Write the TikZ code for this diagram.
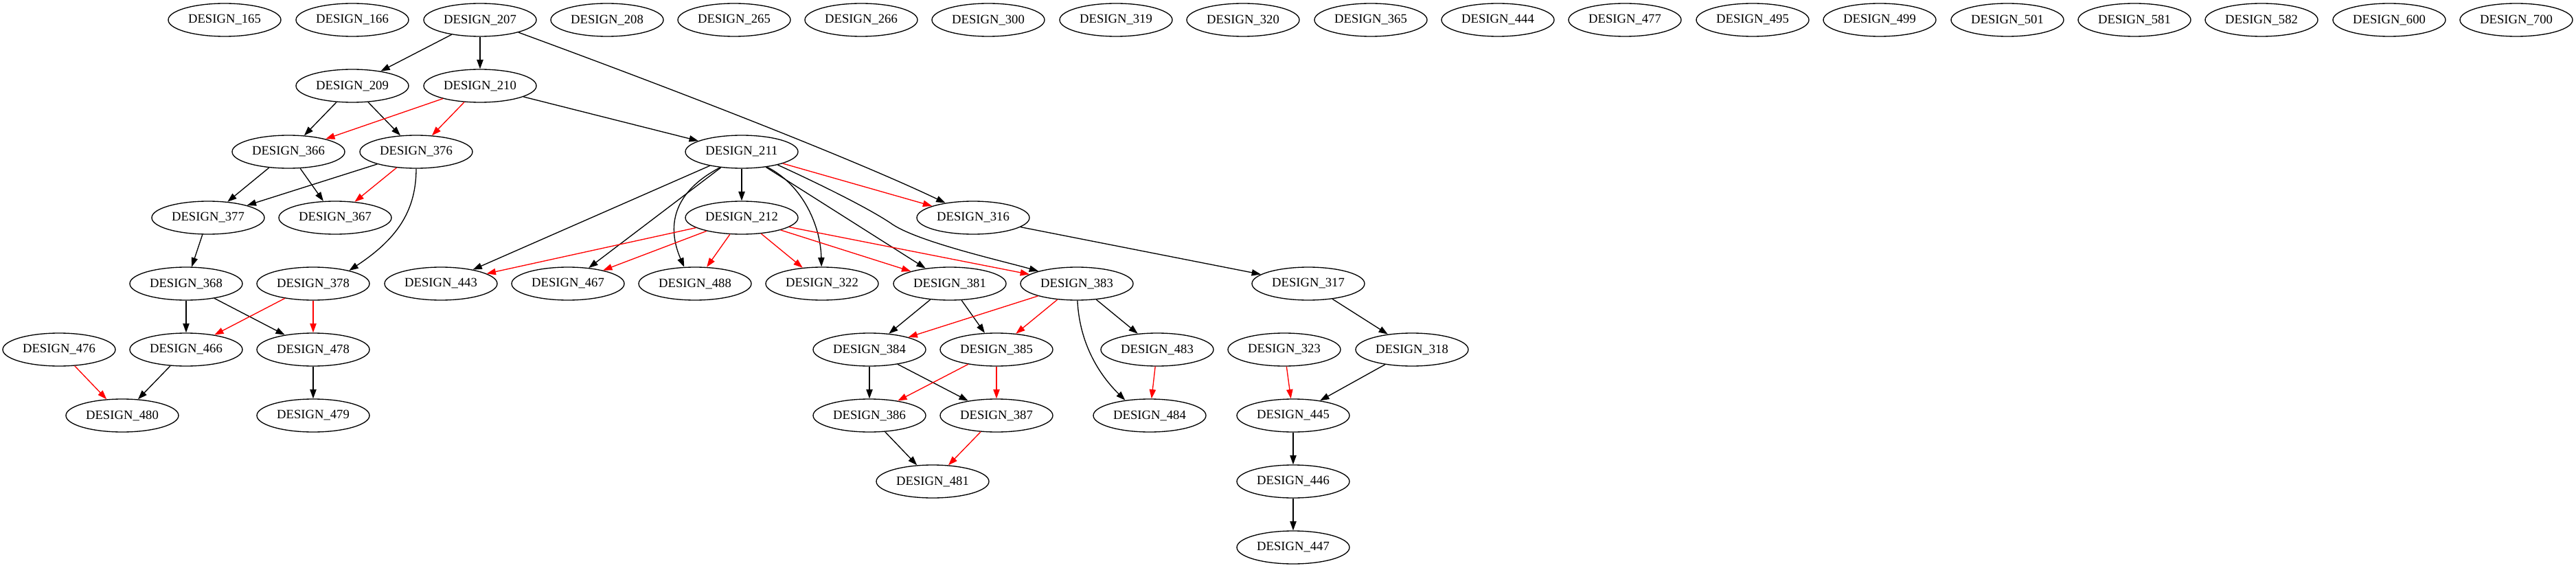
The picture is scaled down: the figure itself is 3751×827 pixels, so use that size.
\documentclass[tikz,border=0pt]{standalone}
\usepackage{fontspec}
\setmainfont{Liberation Serif}
\usetikzlibrary{arrows.meta,shapes.geometric}
\begin{document}
\begin{tikzpicture}[x=0.75pt,y=-0.75pt,
  dnode/.style={draw, ellipse, line width=1pt, minimum width=123pt, minimum height=36pt, inner sep=0pt, font=\fontsize{14}{16}\selectfont},
  bedge/.style={draw=black, line width=1pt, -{Triangle[length=10pt,width=7pt]}},
  redge/.style={bedge, draw=red, fill=red}
]
\useasboundingbox (0,0) rectangle (3751,827);
% top row
\node[dnode] (n165) at (327,29) {DESIGN\_165};
\node[dnode] (n166) at (513,29) {DESIGN\_166};
\node[dnode] (n207) at (699,29) {DESIGN\_207};
\node[dnode] (n208) at (884,29) {DESIGN\_208};
\node[dnode] (n265) at (1069,29) {DESIGN\_265};
\node[dnode] (n266) at (1254,29) {DESIGN\_266};
\node[dnode] (n300) at (1439,29) {DESIGN\_300};
\node[dnode] (n319) at (1625,29) {DESIGN\_319};
\node[dnode] (n320) at (1810,29) {DESIGN\_320};
\node[dnode] (n365) at (1996,29) {DESIGN\_365};
\node[dnode] (n444) at (2181,29) {DESIGN\_444};
\node[dnode] (n477) at (2366,29) {DESIGN\_477};
\node[dnode] (n495) at (2552,29) {DESIGN\_495};
\node[dnode] (n499) at (2737,29) {DESIGN\_499};
\node[dnode] (n501) at (2923,29) {DESIGN\_501};
\node[dnode] (n581) at (3108,29) {DESIGN\_581};
\node[dnode] (n582) at (3293,29) {DESIGN\_582};
\node[dnode] (n600) at (3479,29) {DESIGN\_600};
\node[dnode] (n700) at (3664,29) {DESIGN\_700};
% row 2
\node[dnode] (n209) at (513,125) {DESIGN\_209};
\node[dnode] (n210) at (699,125) {DESIGN\_210};
% row 3
\node[dnode] (n366) at (420,221) {DESIGN\_366};
\node[dnode] (n376) at (606,221) {DESIGN\_376};
\node[dnode] (n211) at (1080,221) {DESIGN\_211};
% row 4
\node[dnode] (n377) at (303,317) {DESIGN\_377};
\node[dnode] (n367) at (488,317) {DESIGN\_367};
\node[dnode] (n212) at (1080,317) {DESIGN\_212};
\node[dnode] (n316) at (1417,317) {DESIGN\_316};
% row 5
\node[dnode] (n368) at (271,413) {DESIGN\_368};
\node[dnode] (n378) at (456,413) {DESIGN\_378};
\node[dnode] (n443) at (642,413) {DESIGN\_443};
\node[dnode] (n467) at (827,413) {DESIGN\_467};
\node[dnode] (n488) at (1012,413) {DESIGN\_488};
\node[dnode] (n322) at (1197,413) {DESIGN\_322};
\node[dnode] (n381) at (1383,413) {DESIGN\_381};
\node[dnode] (n383) at (1568,413) {DESIGN\_383};
\node[dnode] (n317) at (1905,413) {DESIGN\_317};
% row 6
\node[dnode] (n476) at (86,509) {DESIGN\_476};
\node[dnode] (n466) at (271,509) {DESIGN\_466};
\node[dnode] (n478) at (456,509) {DESIGN\_478};
\node[dnode] (n384) at (1266,509) {DESIGN\_384};
\node[dnode] (n385) at (1451,509) {DESIGN\_385};
\node[dnode] (n483) at (1685,509) {DESIGN\_483};
\node[dnode] (n323) at (1870,509) {DESIGN\_323};
\node[dnode] (n318) at (2056,509) {DESIGN\_318};
% row 7
\node[dnode] (n480) at (178,605) {DESIGN\_480};
\node[dnode] (n479) at (456,605) {DESIGN\_479};
\node[dnode] (n386) at (1266,605) {DESIGN\_386};
\node[dnode] (n387) at (1451,605) {DESIGN\_387};
\node[dnode] (n484) at (1674,605) {DESIGN\_484};
\node[dnode] (n445) at (1883,605) {DESIGN\_445};
% row 8, 9
\node[dnode] (n481) at (1358,701) {DESIGN\_481};
\node[dnode] (n446) at (1883,701) {DESIGN\_446};
\node[dnode] (n447) at (1883,797) {DESIGN\_447};

% black edges
\draw[bedge] (n207) -- (n209);
\draw[bedge] (n207) -- (n210);
\draw[bedge] (n207.-18) .. controls (1000,137) and (1250,235) .. (n316.152);
\draw[bedge] (n210) -- (n211);
\draw[bedge] (n209) -- (n366);
\draw[bedge] (n209) -- (n376);
\draw[bedge] (n366) -- (n377);
\draw[bedge] (n366) -- (n367);
\draw[bedge] (n376) -- (n377);
\draw[bedge] (n376.south) .. controls (606,310) and (575,350) .. (n378.20);
\draw[bedge] (n377) -- (n368);
\draw[bedge] (n368) -- (n466);
\draw[bedge] (n368) -- (n478);
\draw[bedge] (n478) -- (n479);
\draw[bedge] (n466) -- (n480);
\draw[bedge] (n211) -- (n212);
\draw[bedge] (n211) -- (n443);
\draw[bedge] (n211) -- (n467);
\draw[bedge] (n211.216) .. controls (970,285) and (975,340) .. (n488.123);
\draw[bedge] (n211.-31) .. controls (1170,270) and (1195,330) .. (n322.92);
\draw[bedge] (n211) -- (n381);
\draw[bedge] (n211.-20) .. controls (1200,271) and (1270,306) .. (1300,327)
  .. controls (1340,353) and (1460,380) .. (n383.162);
\draw[bedge] (n316) -- (n317);
\draw[bedge] (n317) -- (n318);
\draw[bedge] (n318) -- (n445);
\draw[bedge] (n445) -- (n446);
\draw[bedge] (n446) -- (n447);
\draw[bedge] (n381) -- (n384);
\draw[bedge] (n381) -- (n385);
\draw[bedge] (n383) -- (n483);
\draw[bedge] (n383.-88) .. controls (1572,500) and (1600,545) .. (n484.148);
\draw[bedge] (n384) -- (n386);
\draw[bedge] (n384) -- (n387);
\draw[bedge] (n386) -- (n481);

% red edges
\draw[redge] (n210) -- (n366);
\draw[redge] (n210) -- (n376);
\draw[redge] (n376) -- (n367);
\draw[redge] (n378) -- (n466);
\draw[redge] (n378) -- (n478);
\draw[redge] (n476) -- (n480);
\draw[redge] (n211) -- (n316);
\draw[redge] (n212) -- (n443);
\draw[redge] (n212) -- (n467);
\draw[redge] (n212) -- (n488);
\draw[redge] (n212) -- (n322);
\draw[redge] (n212) -- (n381);
\draw[redge] (n212) -- (n383);
\draw[redge] (n383) -- (n384);
\draw[redge] (n383) -- (n385);
\draw[redge] (n385) -- (n386);
\draw[redge] (n385) -- (n387);
\draw[redge] (n387) -- (n481);
\draw[redge] (n483) -- (n484);
\draw[redge] (n323) -- (n445);
\end{tikzpicture}
\end{document}
